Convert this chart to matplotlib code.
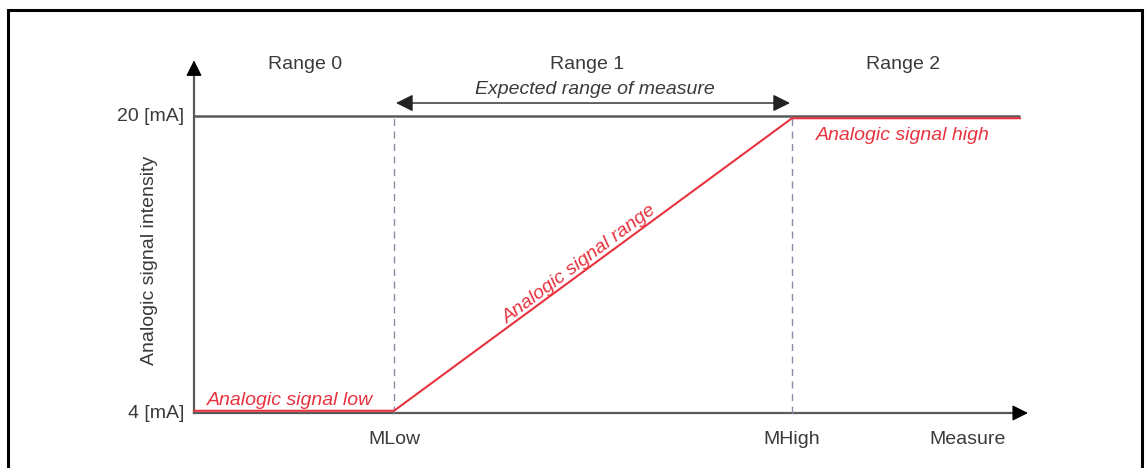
import numpy as np
import matplotlib
matplotlib.use('Agg')
import matplotlib.pyplot as plt
from matplotlib.patches import Rectangle

plt.rcParams['font.family'] = ['Liberation Sans', 'DejaVu Sans']

# measure axis (arbitrary units), current axis in mA
m_low = 1.0
m_high = 2.99
m_end = 4.13
x_arrow_end = 4.17
i_low = 4
i_high = 20
y_arrow_end = 23.0

range_labels = ['Range 0', 'Range 1', 'Range 2']
range_x = [0.555, 1.965, 3.545]
signal_x = [0, m_low, m_high, m_end]
signal_y = [i_low, i_low, i_high, i_high]

txt = '#3a3a3a'
red = '#e8333f'
gray = '#5a5a5a'

fig = plt.figure(figsize=(11.46, 4.68), dpi=100)
ax = fig.add_axes([0, 0, 1, 1])
ax.set_xlim(-0.97, 4.76)
ax.set_ylim(1.037, 26.25)
ax.axis('off')

# frame
fig.patches.append(Rectangle((8 / 1146, -0.05), (1142 - 8) / 1146, 1.05 - 10 / 468,
                             transform=fig.transFigure, fill=False, lw=2.2, ec='black'))

# axes lines (gray) with black arrow heads
ax.plot([0, 0], [i_low, y_arrow_end - 0.5], color=gray, lw=1.6)
ax.plot([0, x_arrow_end - 0.05], [i_low, i_low], color=gray, lw=1.6)
ax.annotate('', xy=(0, y_arrow_end), xytext=(0, y_arrow_end - 0.6),
            arrowprops=dict(arrowstyle='-|>', color='black', lw=1.0, mutation_scale=24, shrinkA=0, shrinkB=0))
ax.annotate('', xy=(x_arrow_end, i_low), xytext=(x_arrow_end - 0.06, i_low),
            arrowprops=dict(arrowstyle='-|>', color='black', lw=1.0, mutation_scale=24, shrinkA=0, shrinkB=0))

# 20 mA line
ax.plot([0, m_end], [i_high, i_high], color=gray, lw=1.8, solid_capstyle='butt')

# dashed limits
for xv in [m_low, m_high]:
    ax.plot([xv, xv], [i_low, i_high], color='#8a8aa8', lw=1.0, dashes=(5, 4))

# signal
ax.plot(signal_x, [signal_y[0] + 0.12, signal_y[1] + 0.12, signal_y[2] - 0.12, signal_y[3] - 0.12],
        color=red, lw=1.5)

# expected range double arrow
ax.annotate('', xy=(m_high - 0.01, 20.7), xytext=(m_low + 0.01, 20.7),
            arrowprops=dict(arrowstyle='<|-|>', color='#222222', lw=1.0, mutation_scale=26, shrinkA=0, shrinkB=0))
ax.text((m_low + m_high) / 2 + 0.01, 21.45, 'Expected range of measure', style='italic',
        fontsize=14, color=txt, ha='center', va='center')

for lab, xv in zip(range_labels, range_x):
    ax.text(xv, 22.8, lab, fontsize=14, color=txt, ha='center', va='center')

# tick labels
ax.text(-0.05, i_high, '20 [mA]', fontsize=14, color=txt, ha='right', va='center')
ax.text(-0.05, i_low, '4 [mA]', fontsize=14, color=txt, ha='right', va='center')
ax.text(m_low, 2.55, 'MLow', fontsize=14, color=txt, ha='center', va='center')
ax.text(m_high, 2.55, 'MHigh', fontsize=14, color=txt, ha='center', va='center')
ax.text(3.87, 2.55, 'Measure', fontsize=14, color=txt, ha='center', va='center')
ax.text(-0.225, 12.2, 'Analogic signal intensity', fontsize=14, color=txt,
        ha='center', va='center', rotation=90)

# red annotations
ax.text(0.48, 4.7, 'Analogic signal low', style='italic', fontsize=14, color=red,
        ha='center', va='center')
ax.text(3.545, 18.95, 'Analogic signal high', style='italic', fontsize=14, color=red,
        ha='center', va='center')
p0 = ax.transData.transform((m_low, i_low))
p1 = ax.transData.transform((m_high, i_high))
ang = np.degrees(np.arctan2(p1[1] - p0[1], p1[0] - p0[0]))
ax.text(1.93, 12.0, 'Analogic signal range', style='italic', fontsize=14, color=red,
        ha='center', va='center', rotation=ang, rotation_mode='anchor')

fig.savefig('out.png', dpi=100)
